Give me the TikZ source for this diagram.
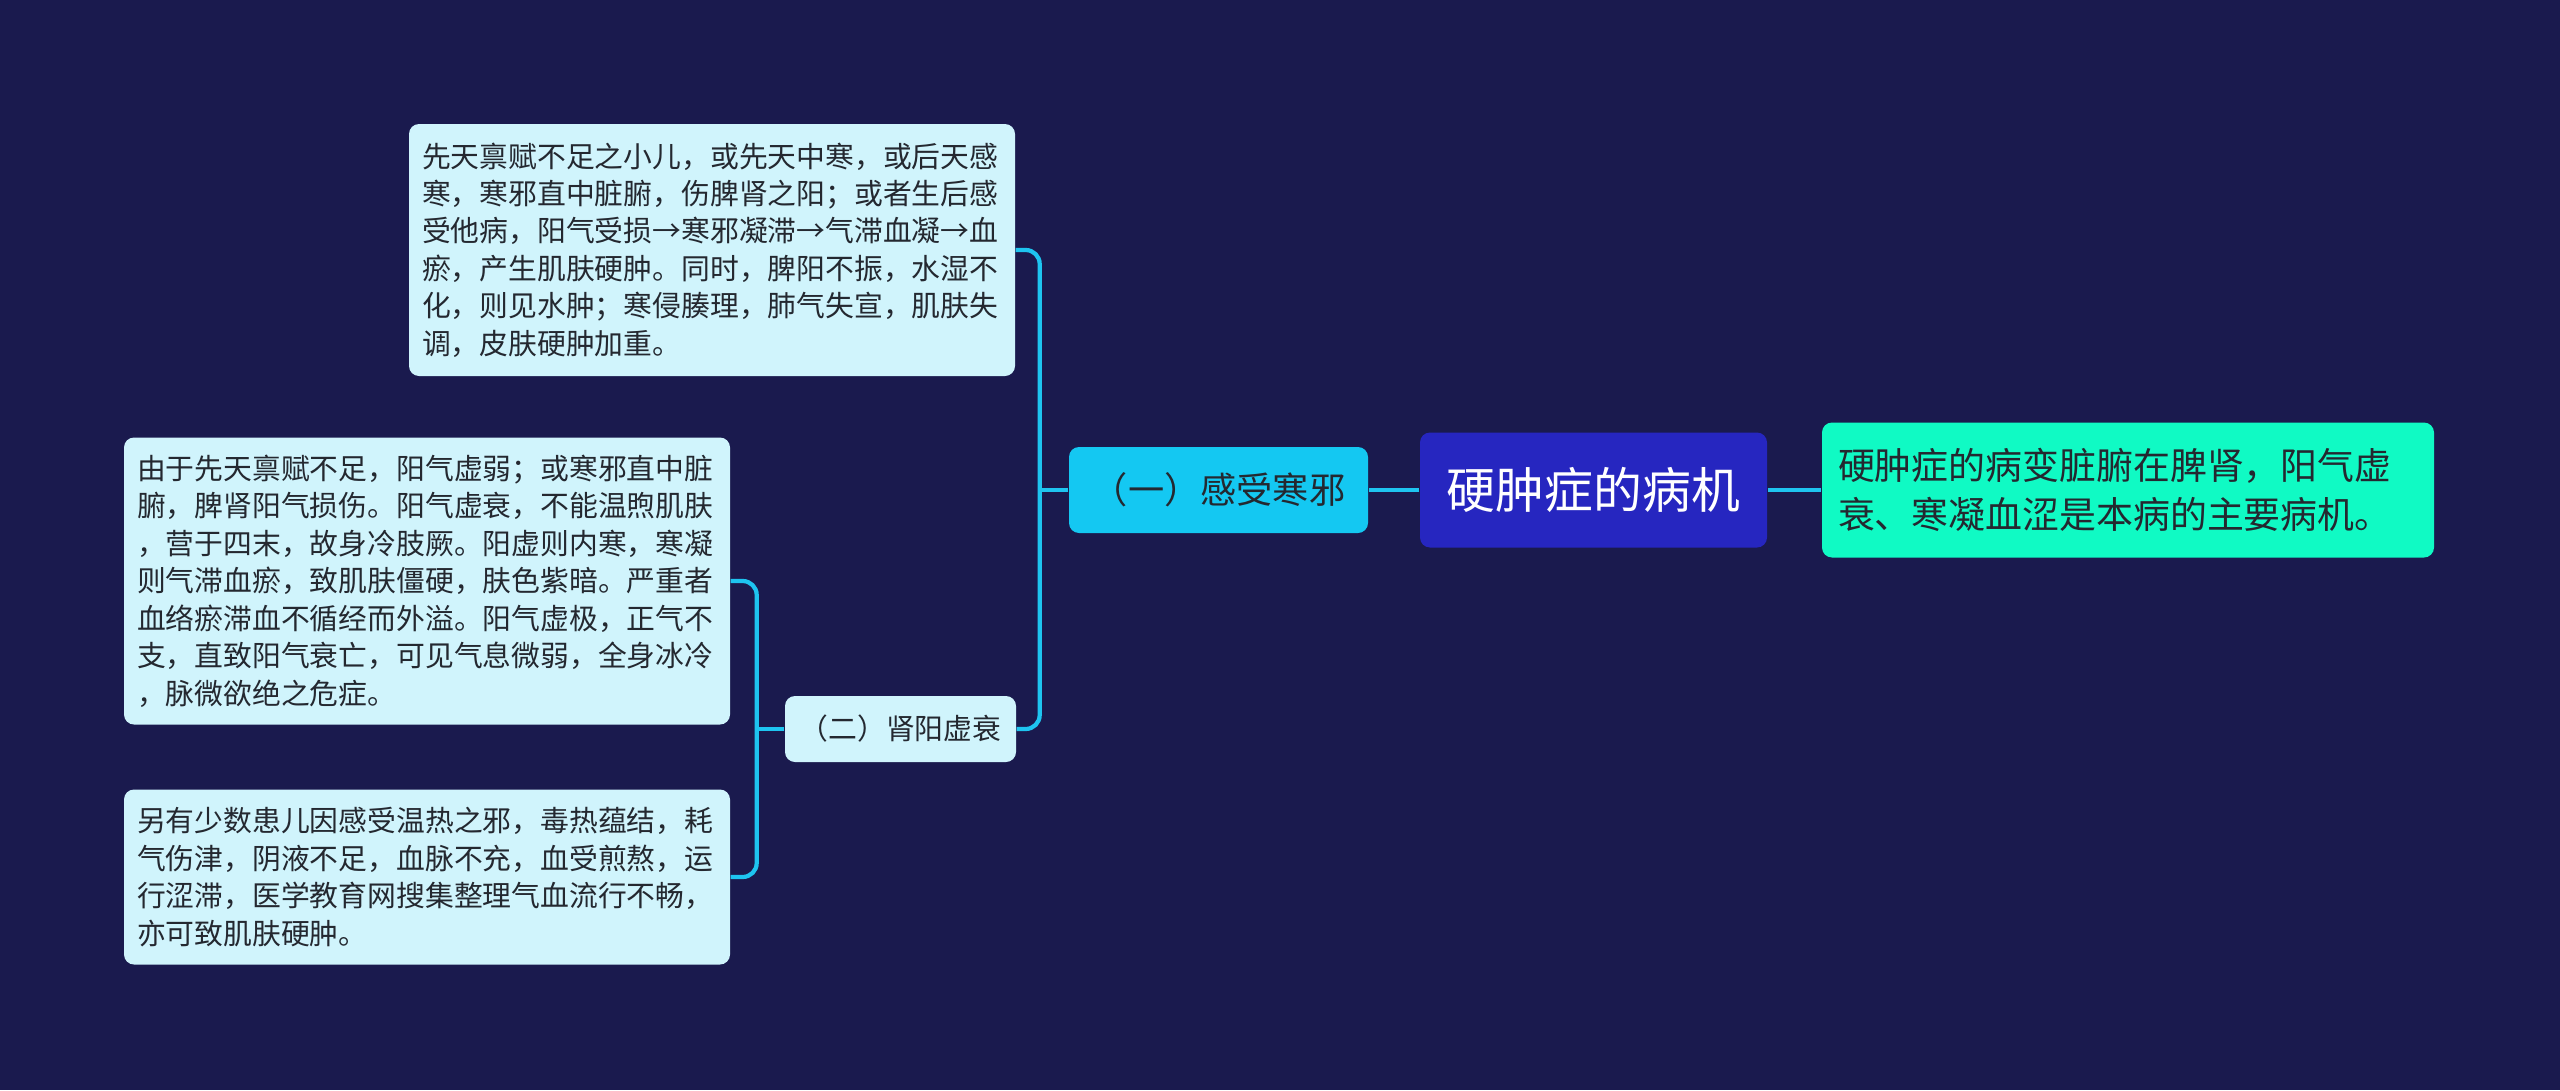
\documentclass[tikz,border=0pt]{standalone}
\usepackage{fontspec}
\setmainfont{Noto Sans CJK SC}
\usepackage{tikz}
\usetikzlibrary{positioning}
\definecolor{bgnavy}{RGB}{26,26,78}
\definecolor{rootblue}{RGB}{38,38,192}
\definecolor{cyanbox}{RGB}{20,200,242}
\definecolor{aquabox}{RGB}{16,250,196}
\definecolor{leafbg}{RGB}{208,244,252}
\definecolor{linecyan}{RGB}{30,196,240}
\definecolor{leaftext}{RGB}{36,40,48}
\tikzstyle{rootbox} = [rectangle, rounded corners=0.1cm, minimum width=3.47cm, minimum height=1.15cm, text centered, fill=rootblue, text=white, font=\fontsize{13.9}{16}\selectfont]
\tikzstyle{notebox} = [rectangle, rounded corners=0.1cm, minimum width=6.12cm, minimum height=1.35cm, text width=5.8cm, align=left, fill=aquabox, text=leaftext, font=\fontsize{10.5}{13.9}\selectfont]
\tikzstyle{branchbig} = [rectangle, rounded corners=0.1cm, minimum width=2.99cm, minimum height=0.86cm, text centered, fill=cyanbox, text=leaftext, font=\fontsize{10.3}{12}\selectfont]
\tikzstyle{branchsmall} = [rectangle, rounded corners=0.1cm, minimum width=2.31cm, minimum height=0.66cm, text centered, fill=leafbg, text=leaftext, font=\fontsize{8.2}{10}\selectfont]
\tikzstyle{leaf} = [rectangle, rounded corners=0.1cm, text width=5.8cm, inner sep=0.13cm, align=left, fill=leafbg, text=leaftext, font=\fontsize{8.2}{10.66}\selectfont]
\tikzstyle{conn} = [draw=linecyan, line width=1.2pt, rounded corners=0.14cm]

\begin{document}
\begin{tikzpicture}[node distance=2cm]
\fill[bgnavy] (0,0) rectangle (25.6,10.9);
\useasboundingbox (0,0) rectangle (25.6,10.9);

\node (root) [rootbox] at (15.935,6.00) {硬肿症的病机};
\node (note) [notebox] at (21.28,6.00) {硬肿症的病变脏腑在脾肾，阳气虚\\衰、寒凝血涩是本病的主要病机。};
\node (one) [branchbig] at (12.185,6.00) {（一）感受寒邪};
\node (two) [branchsmall] at (9.005,3.61) {（二）肾阳虚衰};
\node (cold) [leaf, minimum height=2.52cm] at (7.12,8.40) {先天禀赋不足之小儿，或先天中寒，或后天感\\寒，寒邪直中脏腑，伤脾肾之阳；或者生后感\\受他病，阳气受损→寒邪凝滞→气滞血凝→血\\瘀，产生肌肤硬肿。同时，脾阳不振，水湿不\\化，则见水肿；寒侵腠理，肺气失宣，肌肤失\\调，皮肤硬肿加重。};
\node (weak) [leaf, minimum height=2.87cm] at (4.27,5.09) {由于先天禀赋不足，阳气虚弱；或寒邪直中脏\\腑，脾肾阳气损伤。阳气虚衰，不能温煦肌肤\\，营于四末，故身冷肢厥。阳虚则内寒，寒凝\\则气滞血瘀，致肌肤僵硬，肤色紫暗。严重者\\血络瘀滞血不循经而外溢。阳气虚极，正气不\\支，直致阳气衰亡，可见气息微弱，全身冰冷\\，脉微欲绝之危症。};
\node (heat) [leaf, minimum height=1.75cm] at (4.27,2.13) {另有少数患儿因感受温热之邪，毒热蕴结，耗\\气伤津，阴液不足，血脉不充，血受煎熬，运\\行涩滞，医学教育网搜集整理气血流行不畅，\\亦可致肌肤硬肿。};

\draw [conn, line width=1pt] (root) -- (one);
\draw [conn, line width=1pt] (root) -- (note);
\draw [conn] (one.west) -- ++(-0.29,0);
\draw [conn] (cold.east) -- ++(0.24,0) |- (two.east);
\draw [conn] (two.west) -- ++(-0.29,0);
\draw [conn] (weak.east) -- ++(0.26,0) |- (heat.east);

\end{tikzpicture}
\end{document}
